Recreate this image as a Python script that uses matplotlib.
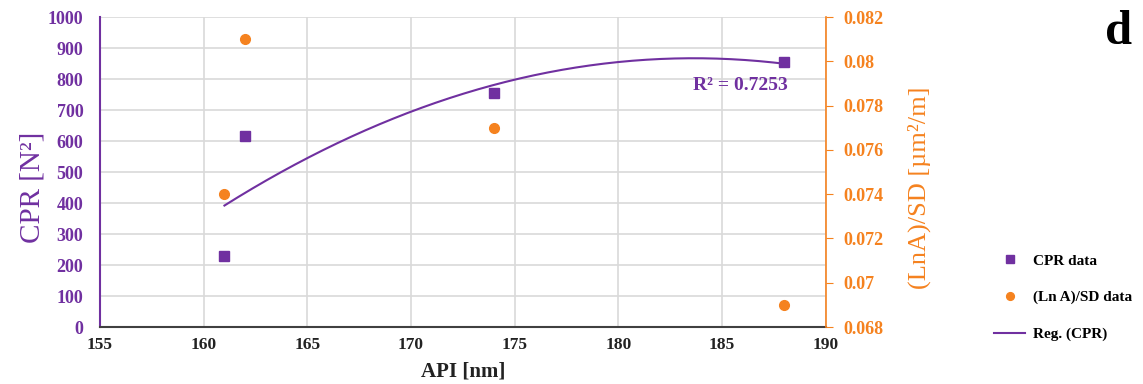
import numpy as np
import matplotlib.pyplot as plt

# measured values
api = [161, 162, 174, 188]
cpr = [230, 615, 755, 855]
lna_sd = [0.0740, 0.0810, 0.0770, 0.0690]
r2_label = 'R² = 0.7253'

purple = "#7030A0"
orange = "#F5821F"

plt.rcParams['font.family'] = ['Liberation Serif', 'DejaVu Serif']

fig = plt.figure(figsize=(11.43, 3.84), dpi=100)
ax = fig.add_axes([0.0875, 0.1484, 0.635, 0.8073])
ax2 = ax.twinx()

# 2nd-order regression of CPR
coef = np.polyfit(api, cpr, 2)
xs = np.linspace(min(api), max(api), 200)

h1, = ax.plot(api, cpr, 's', color=purple, ms=7, label='CPR data', zorder=3)
h3, = ax.plot(xs, np.polyval(coef, xs), '-', color=purple, lw=1.5, label='Reg. (CPR)')
h2, = ax2.plot(api, lna_sd, 'o', color=orange, ms=7, label='(Ln A)/SD data')

ax.set_xlim(155, 190)
ax.set_ylim(0, 1000)
ax.set_xticks(np.arange(155, 191, 5))
ax.set_yticks(np.arange(0, 1001, 100))
ax2.set_ylim(0.068, 0.082)
ax2.set_yticks(np.arange(0.068, 0.0821, 0.002))
ax2.set_yticklabels(['0.068', '0.07', '0.072', '0.074', '0.076', '0.078', '0.08', '0.082'])

ax.grid(True, color='#d9d9d9', lw=1.2)
ax.set_axisbelow(True)

for a in (ax, ax2):
    a.spines['top'].set_visible(False)
ax.spines['left'].set_color(purple)
ax.spines['left'].set_linewidth(1.5)
ax.spines['bottom'].set_color('#404040')
ax.spines['bottom'].set_linewidth(1.5)
ax.spines['right'].set_visible(False)
ax2.spines['left'].set_visible(False)
ax2.spines['bottom'].set_visible(False)
ax2.spines['right'].set_color(orange)
ax2.spines['right'].set_linewidth(1.2)

ax.tick_params(axis='y', length=0, colors=purple, labelsize=13, pad=12)
ax.tick_params(axis='x', length=0, labelsize=12.5, pad=7, labelcolor='#222222')
ax2.tick_params(axis='y', length=5, colors=orange, labelsize=13, pad=8)
for lab in ax.get_xticklabels() + ax.get_yticklabels() + ax2.get_yticklabels():
    lab.set_fontweight('bold')

ax.set_xlabel('API [nm]', fontsize=15, fontweight='bold', color='#222222', labelpad=6)
ax.set_ylabel('CPR [N²]', fontsize=21, color=purple)
ax.yaxis.set_label_coords(-0.075, 0.45)
ax2.set_ylabel('(LnA)/SD [µm²/m]', fontsize=19, color=orange)
ax2.yaxis.set_label_coords(1.113, 0.45)

ax.text(185.9, 780, r2_label, color=purple, fontsize=14,
        fontweight='bold', ha='center', va='center')

fig.text(0.979, 0.885, 'd', fontsize=35, fontweight='bold', ha='center', va='baseline')

fig.legend(handles=[h1, h2, h3], loc='center left', bbox_to_anchor=(0.858, 0.225),
           frameon=False, prop={'weight': 'bold', 'size': 11},
           labelspacing=1.5, handlelength=2.0, handletextpad=0.5, markerscale=0.8)

fig.savefig('out.png', dpi=100)
